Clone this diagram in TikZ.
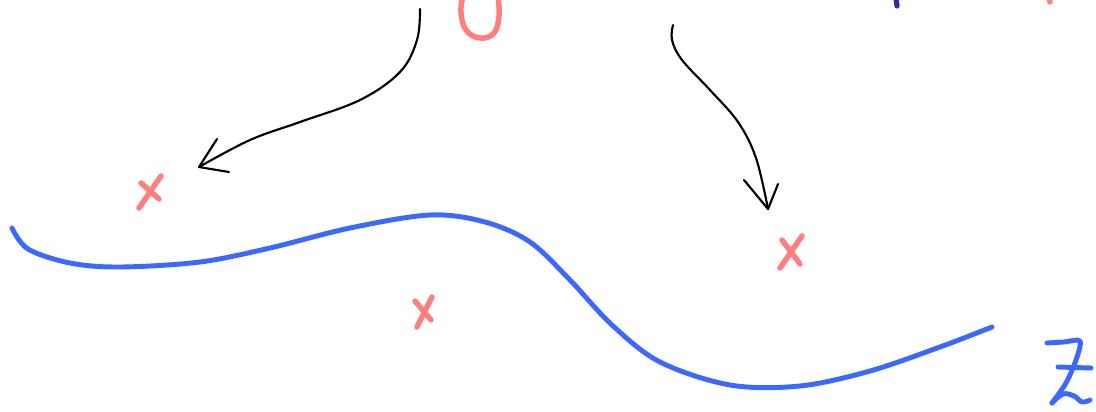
\documentclass[tikz,border=0pt]{standalone}
\definecolor{pinkink}{HTML}{FF7F7F}
\definecolor{blueink}{HTML}{3C68FF}
\definecolor{navyink}{HTML}{2E2E9E}
\tikzset{
  pinkstroke/.style={draw=pinkink,line width=4.1pt,line cap=round,line join=round},
  bluestroke/.style={draw=blueink,line width=3.7pt,line cap=round,line join=round},
  navystroke/.style={draw=navyink,line width=3.9pt,line cap=round},
  inkarrow/.style={draw=black,line width=1.6pt,line cap=round,line join=round}
}
\begin{document}
\begin{tikzpicture}[x=0.75pt,y=-0.75pt]
\useasboundingbox (0,0) rectangle (1096,411);
\clip (0,0) rectangle (1096,411);
% partial pink O at top
\draw[pinkstroke] plot[smooth,tension=0.7] coordinates {(463,-4) (461,12) (466,30) (480,38) (494,33) (499,16) (498,-4)};
% navy tick top right
\draw[navystroke] (896,-2) -- (897,6);
% pink dot top right
\draw[pinkstroke] (1049,-2) -- (1050,2);
% arrow 1
\draw[inkarrow] plot[smooth,tension=0.6] coordinates {(420,9) (417,40) (400,72) (360,100) (300,122) (250,140) (199,167)};
\draw[inkarrow] (217,139) -- (199,167) -- (229,172);
% arrow 2
\draw[inkarrow] plot[smooth,tension=0.6] coordinates {(673,25) (672,40) (682,60) (710,90) (738,122) (756,158) (768,209)};
\draw[inkarrow] (744,180) -- (768,209) -- (778,184);
% pink crosses
\draw[pinkstroke] (139,208) -- (161,176);
\draw[pinkstroke] (141,183) -- (159,199);
\draw[pinkstroke] (780,268) -- (802,236);
\draw[pinkstroke] (782,240) -- (800,264);
\draw[pinkstroke] (417,327) -- (432,297);
\draw[pinkstroke] (415,301) -- (431,320);
% blue curve
\draw[bluestroke] plot[smooth,tension=0.55] coordinates {(12,228) (28,249) (70,263) (120,267) (200,262) (270,248) (350,228) (430,215) (485,222) (530,242) (570,280) (612,325) (660,362) (730,385) (800,386) (870,371) (940,347) (992,327)};
% Z
\draw[bluestroke] plot[smooth,tension=0.5] coordinates {(1047,343) (1064,342) (1080,341) (1076,360) (1066,383) (1052,403)};
\draw[bluestroke] plot[smooth,tension=0.6] coordinates {(1052,403) (1063,394) (1074,396) (1082,402) (1090,400)};
\draw[bluestroke] (1058,367) -- (1091,368);
\end{tikzpicture}
\end{document}
